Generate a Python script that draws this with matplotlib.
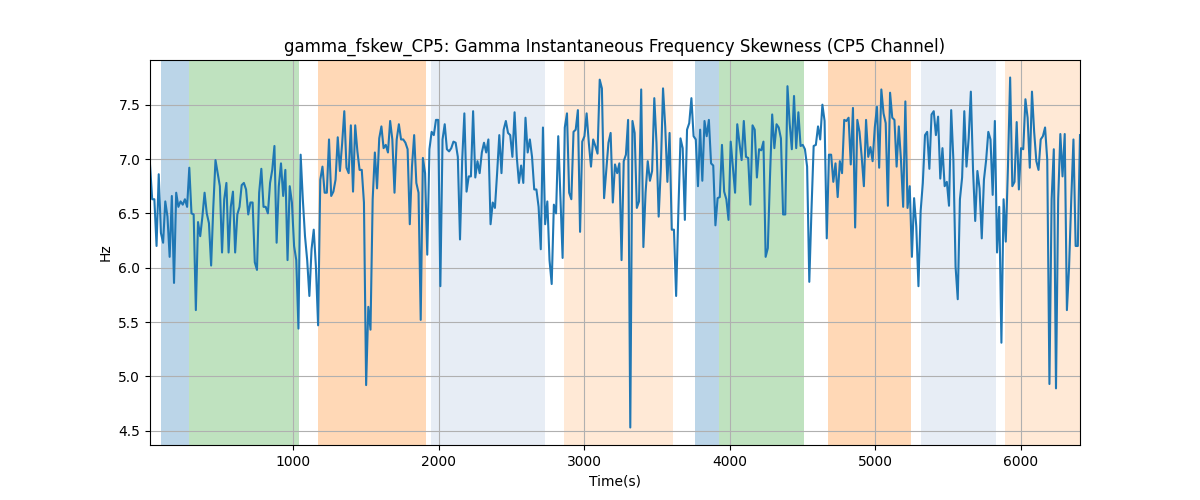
import numpy as np
import matplotlib
matplotlib.use("Agg")
import matplotlib.pyplot as plt

# gamma instantaneous frequency skewness (Hz)
seg_a = [6.95, 6.63, 6.63, 6.20, 6.86, 6.32, 6.23, 6.61, 6.47, 6.10, 6.66, 5.86, 6.69,
         6.56, 6.61, 6.58, 6.63, 6.56, 6.92, 6.50, 6.49, 5.61, 6.42, 6.29, 6.47, 6.69,
         6.50, 6.41, 6.02, 6.56, 6.99, 6.87, 6.75, 6.14, 6.63, 6.78, 6.14, 6.56, 6.70,
         6.14, 6.49, 6.56, 6.76, 6.78, 6.72, 6.49, 6.60, 6.60, 6.05, 5.98, 6.69, 6.91]
seg_b = [6.56, 6.56, 6.50, 6.78, 6.90, 7.12, 6.23, 6.75, 6.96, 6.66, 6.90, 6.07, 6.75,
         6.60, 6.20, 6.07, 5.44, 7.04, 6.63, 6.29, 6.07, 5.74, 6.17, 6.35, 6.01, 5.47,
         6.81, 6.93, 6.69, 6.69, 7.18, 6.66, 6.70, 6.81, 7.20, 6.89, 7.14, 7.44, 6.92,
         6.87, 7.31, 6.70, 7.31, 7.07, 6.90, 6.90]
seg_c = [6.60, 4.92, 5.64, 5.43, 6.63, 7.06, 6.73, 7.19, 7.30, 7.10, 7.13, 7.06, 7.35,
         7.18, 6.69, 7.18, 7.32, 7.18, 7.18, 7.15, 7.09, 6.40, 6.93, 7.22, 6.78, 6.69,
         5.52, 7.01, 6.87, 6.12, 7.09, 7.25, 7.22, 7.36, 7.36, 5.83, 7.18, 7.32, 7.09,
         7.07, 7.10, 7.16, 7.15, 7.02, 6.26, 6.99, 7.42, 6.70, 6.84, 6.84, 7.44]
seg_d = [6.83, 6.98, 6.87, 7.06, 7.15, 7.06, 7.18, 6.40, 6.60, 6.55, 6.87, 7.22, 6.87,
         7.27, 7.35, 7.24, 7.22, 7.02, 7.43, 7.02, 6.78, 6.94, 6.78, 7.38, 7.06, 7.18,
         7.02, 6.72, 6.72, 6.56, 6.17, 7.29, 6.40, 6.61, 6.07, 5.85, 6.58, 6.50, 7.21,
         6.66, 6.09, 7.29, 7.42, 6.69, 6.63, 7.25]
seg_e = [7.27, 7.45, 6.33, 7.16, 7.21, 7.42, 7.15, 6.93, 7.18, 7.12, 7.05, 7.73, 7.65,
         6.64, 6.90, 7.15, 7.24, 6.60, 6.95, 6.87, 6.96, 6.07, 6.98, 7.04, 7.36, 4.53,
         7.35, 7.24, 6.55, 6.61, 7.64, 6.19, 6.69, 6.98, 6.80, 6.89, 7.56, 7.15, 6.47,
         6.92, 7.65, 7.30, 6.79, 7.24, 6.35, 6.35]
seg_f = [5.74, 6.50, 7.19, 7.10, 6.44, 7.27, 7.33, 7.56, 7.21, 7.18, 6.75, 7.27, 6.80,
         7.35, 7.21, 7.36, 6.96, 6.94, 6.39, 6.64, 6.65, 7.13, 6.70, 6.63, 6.44, 7.16,
         6.93, 6.69, 7.32, 7.15, 6.99, 7.35, 7.02, 7.01, 6.58, 7.31, 7.27, 6.83, 7.09,
         7.08, 7.16, 6.10, 6.18, 6.84, 7.41, 7.10]
seg_g = [7.32, 7.29, 7.19, 6.49, 6.49, 7.67, 7.33, 7.09, 7.58, 7.10, 7.43, 7.12, 7.13,
         7.09, 6.93, 5.87, 6.53, 7.12, 7.13, 7.30, 7.18, 7.50, 7.35, 6.27, 7.04, 7.04,
         6.79, 6.96, 6.65, 6.98, 6.87, 7.36, 7.35, 7.38, 6.95, 7.47, 6.37, 7.36, 7.25,
         7.02, 6.75, 7.36, 7.02, 7.11, 6.98, 7.29]
seg_h = [7.48, 6.92, 7.64, 7.42, 7.33, 6.57, 7.61, 7.38, 7.36, 6.93, 7.30, 6.99, 6.56,
         7.53, 6.55, 6.75, 6.10, 6.64, 6.38, 5.83, 6.52, 6.78, 7.22, 7.25, 6.91, 7.41,
         7.44, 7.22, 7.39, 6.82, 7.10, 6.75, 6.79, 6.57, 7.45, 6.99, 6.01, 5.71, 6.63,
         6.83, 7.44, 6.93, 7.19, 7.62, 6.90, 6.43, 6.89]
seg_i = [6.73, 6.27, 6.81, 6.99, 7.25, 7.18, 6.67, 7.35, 6.14, 6.56, 5.31, 6.63, 6.24,
         6.93, 7.75, 6.75, 6.79, 7.34, 6.72, 7.10, 7.09, 7.55, 7.38, 6.92, 7.62, 7.25,
         6.98, 6.90, 7.18, 7.21, 7.29, 6.99, 4.93, 6.63, 7.09, 4.89, 6.63, 7.23, 6.84,
         7.23, 5.61, 6.01, 6.63, 7.18, 6.20, 6.20, 7.22]

values = np.array(seg_a + seg_b + seg_c + seg_d + seg_e + seg_f + seg_g + seg_h + seg_i)
t_start, t_end = 18, 6405
times = np.linspace(t_start, t_end, len(values))

# shaded phases: (start, end, colour, alpha)
span_starts = [93, 286, 1172, 1947, 2861, 3761, 3926, 4675, 5313, 5890]
span_ends = [286, 1040, 1914, 2730, 3610, 3926, 4510, 5245, 5828, 6405]
span_colors = ["C0", "C2", "C1", "lightsteelblue", "C1", "C0", "C2", "C1", "lightsteelblue", "C1"]
span_alphas = [0.3, 0.3, 0.3, 0.3, 0.17, 0.3, 0.3, 0.3, 0.3, 0.17]

fig, ax = plt.subplots(figsize=(12, 5), dpi=100)

for s, e, c, a in zip(span_starts, span_ends, span_colors, span_alphas):
    ax.axvspan(s, e, color=c, alpha=a, linewidth=0)

ax.plot(times, values, color="C0", linewidth=1.5)
ax.set_xlim(t_start, t_end)
ax.set_title("gamma_fskew_CP5: Gamma Instantaneous Frequency Skewness (CP5 Channel)")
ax.set_xlabel("Time(s)")
ax.set_ylabel("Hz")
ax.grid(True)

fig.savefig("out.png")
